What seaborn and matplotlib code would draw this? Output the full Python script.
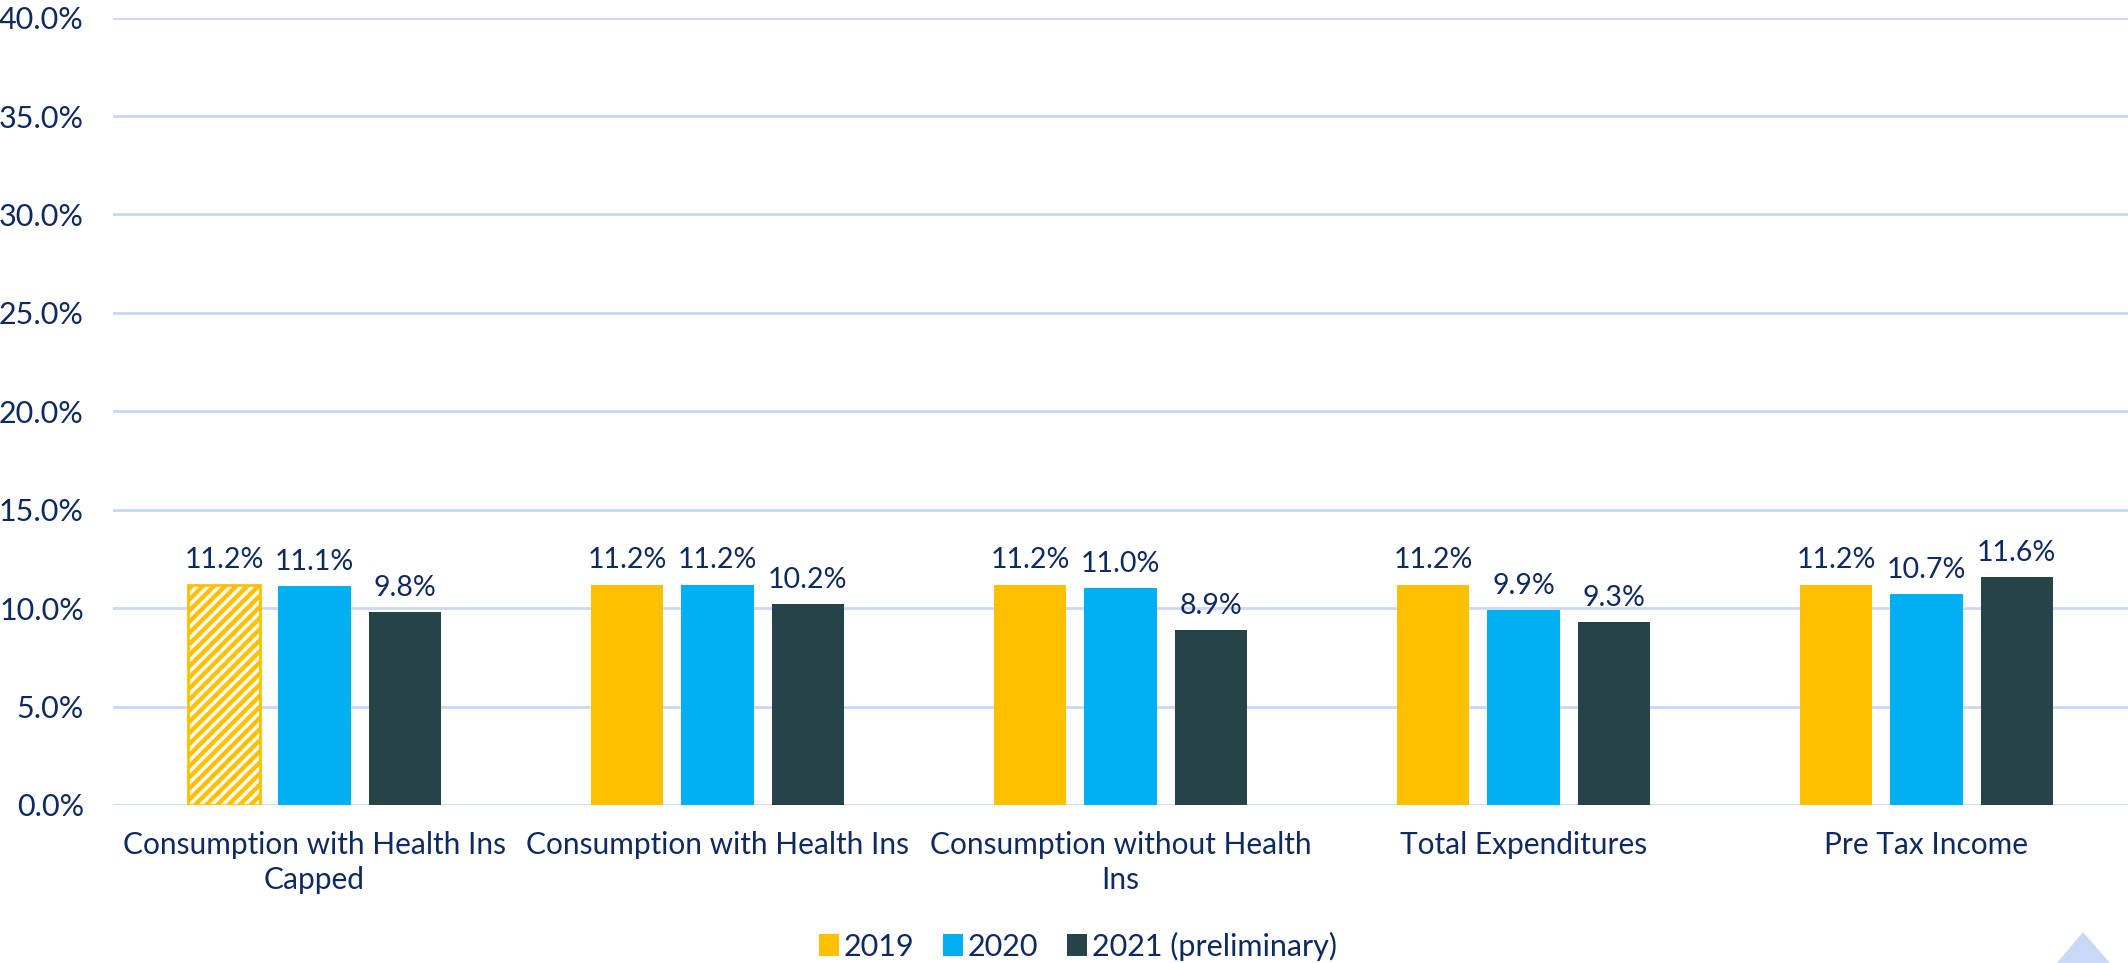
import matplotlib
matplotlib.use("Agg")
import matplotlib.pyplot as plt
import seaborn as sns
import pandas as pd
from matplotlib.patches import Patch, Polygon

categories = ["Consumption with Health Ins\nCapped",
              "Consumption with Health Ins",
              "Consumption without Health\nIns",
              "Total Expenditures",
              "Pre Tax Income"]
series_names = ["2019", "2020", "2021 (preliminary)"]
v2019 = [11.2, 11.2, 11.2, 11.2, 11.2]
v2020 = [11.1, 11.2, 11.0, 9.9, 10.7]
v2021 = [9.8, 10.2, 8.9, 9.3, 11.6]
yticks = [0, 5, 10, 15, 20, 25, 30, 35, 40]

colors = ["#FFC000", "#00B0F0", "#264348"]
text_color = "#0f2a60"
grid_color = "#c9d8f5"

rows = []
for name, vals in zip(series_names, [v2019, v2020, v2021]):
    for c, v in zip(categories, vals):
        rows.append({"category": c, "year": name, "value": v})
df = pd.DataFrame(rows)

sns.set_theme(style="white")
plt.rcParams['font.family'] = ['Lato', 'DejaVu Sans']
plt.rcParams['hatch.linewidth'] = 3.2

fig = plt.figure(figsize=(21.28, 9.63), dpi=100)
ax = fig.add_axes([113/2128, 1 - 805/963, 1 - 113/2128, (805 - 17.6)/963])

sns.barplot(data=df, x="category", y="value", hue="year", order=categories,
            hue_order=series_names, palette=colors, width=0.67, gap=0.2,
            saturation=1, ax=ax, legend=False, edgecolor="none")

# hatched first bar
first = ax.containers[0][0]
first.set_facecolor("white")
first.set_edgecolor(colors[0])
first.set_hatch("///")
first.set_linewidth(2)
if hasattr(first, "set_hatch_linewidth"):
    first.set_hatch_linewidth(3.2)

for cont in ax.containers:
    ax.bar_label(cont, labels=[f"{b.get_height():.1f}%" for b in cont],
                 padding=8, fontsize=20.5, color=text_color)

ax.set_xlim(-0.5, 4.5)
ax.set_ylim(0, 40)
ax.set_yticks(yticks)
ax.set_yticklabels([f"{t:.1f}%" for t in yticks])
ax.set_xlabel("")
ax.set_ylabel("")
ax.grid(axis="y", color=grid_color, linewidth=2)
ax.set_axisbelow(True)
for s in ax.spines.values():
    s.set_visible(False)
ax.tick_params(axis="y", length=0, labelsize=22, colors=text_color, pad=21)
ax.tick_params(axis="x", length=0, labelsize=21.5, colors=text_color, pad=19)
for lab in ax.get_xticklabels():
    lab.set_multialignment("center")
    lab.set_linespacing(1.3)

handles = [Patch(facecolor=c, edgecolor="none") for c in colors]
fig.legend(handles, series_names, loc="center", bbox_to_anchor=(1078/2128, 1 - 946/963),
           ncol=3, frameon=False, fontsize=22, labelcolor=text_color,
           handlelength=0.65, handleheight=0.75, handletextpad=0.15, columnspacing=0.95)

tri = Polygon([[2057/2128, 0], [2083/2128, 31/963], [2110/2128, 0]], closed=True,
              transform=fig.transFigure, facecolor="#c9d8f5", edgecolor="none")
fig.patches.append(tri)

fig.savefig("out.png", dpi=100)
